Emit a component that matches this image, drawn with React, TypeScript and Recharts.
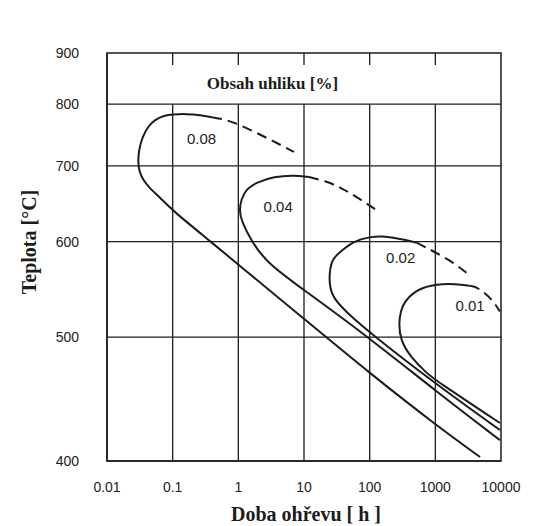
import React from 'react';
import {
  LineChart,
  Line,
  XAxis,
  YAxis,
  ReferenceLine,
  ReferenceArea,
  ReferenceDot,
  Label,
} from 'recharts';

type Pt = { t: number; T: number };

// axes
const timeTicks = [0.01, 0.1, 1, 10, 100, 1000, 10000];
const tempTicks = [900, 800, 700, 600, 500, 400];
const gridTimes = [0.1, 1, 10, 100, 1000];
const gridTemps = [800, 700, 600, 500];

// curves: t = hours, T = °C
const c008Solid: Pt[] = [
  { t: 0.4, T: 777 }, { t: 0.267, T: 781 }, { t: 0.161, T: 783 }, { t: 0.1, T: 782 },
  { t: 0.0741, T: 780 }, { t: 0.0548, T: 773.5 }, { t: 0.042, T: 762 }, { t: 0.0344, T: 743.5 },
  { t: 0.0306, T: 724 }, { t: 0.0296, T: 706 }, { t: 0.0311, T: 691.5 }, { t: 0.0355, T: 679.7 },
  { t: 0.0434, T: 669.6 }, { t: 0.0648, T: 655 }, { t: 0.1, T: 638.4 }, { t: 0.35, T: 602.3 },
  { t: 1.035, T: 572.9 }, { t: 10.4, T: 516.5 }, { t: 100, T: 468 }, { t: 1020, T: 426.3 },
  { t: 4800, T: 402.8 },
];
const c008Dash: Pt[] = [
  { t: 0.4, T: 777 }, { t: 0.622, T: 773.5 }, { t: 1.035, T: 765 }, { t: 2.48, T: 745 },
  { t: 4.98, T: 729 }, { t: 7.05, T: 721 },
];

const c004Solid: Pt[] = [
  { t: 11.9, T: 684 }, { t: 7.05, T: 686.6 }, { t: 3.51, T: 684.6 }, { t: 1.87, T: 676.3 },
  { t: 1.32, T: 667 }, { t: 1.11, T: 653.7 }, { t: 1.035, T: 638.4 }, { t: 1.11, T: 626.1 },
  { t: 1.56, T: 601.2 }, { t: 2.75, T: 575.2 }, { t: 10, T: 546.4 }, { t: 100, T: 499.1 },
  { t: 1020, T: 453 }, { t: 9620, T: 415 },
];
const c004Dash: Pt[] = [
  { t: 11.9, T: 684 }, { t: 22.3, T: 677.7 }, { t: 37.7, T: 668.2 }, { t: 63.6, T: 656.4 },
  { t: 137, T: 637.2 },
];

const c002Solid: Pt[] = [
  { t: 522, T: 598.8 }, { t: 330, T: 602.7 }, { t: 232, T: 604.6 }, { t: 164, T: 606.6 },
  { t: 100, T: 605.8 }, { t: 57.2, T: 601.2 }, { t: 31.6, T: 584.8 }, { t: 26.5, T: 578.7 },
  { t: 23.9, T: 561.6 }, { t: 25.4, T: 540.3 }, { t: 44.9, T: 523.5 }, { t: 102, T: 503.8 },
  { t: 1020, T: 458.8 }, { t: 9620, T: 422.5 },
];
const c002Dash: Pt[] = [
  { t: 522, T: 598.8 }, { t: 741, T: 592.8 }, { t: 1800, T: 577.5 }, { t: 3380, T: 561.6 },
];

const c001Solid: Pt[] = [
  { t: 3380, T: 550.7 }, { t: 2050, T: 552.9 }, { t: 1060, T: 552.9 }, { t: 522, T: 547.5 },
  { t: 330, T: 533.7 }, { t: 297, T: 524.5 }, { t: 277, T: 513.2 }, { t: 294, T: 497.2 },
  { t: 418, T: 482.1 }, { t: 741, T: 468 }, { t: 1000, T: 462.1 }, { t: 9620, T: 427.8 },
];
const c001Dash: Pt[] = [
  { t: 3380, T: 550.7 }, { t: 4440, T: 549.3 }, { t: 7340, T: 536.9 }, { t: 9620, T: 524.5 },
];

const curveLabels = [
  { text: '0.08', t: 0.276, T: 742 },
  { text: '0.04', t: 4.04, T: 643.5 },
  { text: '0.02', t: 297, T: 581 },
  { text: '0.01', t: 3380, T: 530.6 },
];

// temperature axis is drawn in 1/T (Kelvin)
const inv = (T: number) => 1000 / (T + 273);
const toRows = (pts: Pt[]) => pts.map((p) => ({ t: p.t, y: inv(p.T) }));

const ink = '#1c1c1c';
const sans = 'Liberation Sans, Arial, sans-serif';
const serif = 'Liberation Serif, Times New Roman, serif';

const series = [
  { key: 's08', data: c008Solid, dash: undefined },
  { key: 'd08', data: c008Dash, dash: '10 6' },
  { key: 's04', data: c004Solid, dash: undefined },
  { key: 'd04', data: c004Dash, dash: '10 6' },
  { key: 's02', data: c002Solid, dash: undefined },
  { key: 'd02', data: c002Dash, dash: '10 6' },
  { key: 's01', data: c001Solid, dash: undefined },
  { key: 'd01', data: c001Dash, dash: '10 6' },
];

// temperature labels sit well left of the frame, as in the scan
function TempTick(props: any) {
  const { y, payload } = props;
  const label = String(Math.round(1000 / payload.value - 273));
  return (
    <text x={79} y={y} dy="0.35em" textAnchor="end" fontSize={14} fontFamily={sans} fill="#222">
      {label}
    </text>
  );
}

export default function App() {
  return (
    <div style={{ position: 'absolute', left: 0, top: 0, background: '#fff' }}>
      <LineChart width={540} height={526} margin={{ top: 53, right: 39, bottom: 0, left: 0 }}>
        <XAxis
          dataKey="t"
          type="number"
          scale="log"
          domain={[0.01, 10000]}
          ticks={timeTicks}
          tickFormatter={(v: number) => String(v)}
          allowDataOverflow
          height={65}
          axisLine={{ stroke: ink, strokeWidth: 1.5 }}
          tickLine={false}
          tickSize={0}
          tickMargin={21}
          tick={{ fill: '#222', fontSize: 14, fontFamily: sans }}
        >
          <Label
            content={() => (
              <text x={306} y={521} textAnchor="middle" fontFamily={serif} fontWeight="bold" fontSize={20} fill={ink}>
                Doba ohřevu [ h ]
              </text>
            )}
          />
        </XAxis>
        <YAxis
          type="number"
          domain={[inv(900), inv(400)]}
          reversed
          ticks={tempTicks.map(inv)}
          allowDataOverflow
          width={107}
          axisLine={{ stroke: ink, strokeWidth: 1.5 }}
          tickLine={false}
          tickSize={0}
          tick={TempTick}
        >
          <Label
            content={() => (
              <text
                x={36}
                y={242}
                transform="rotate(-90 36 242)"
                textAnchor="middle"
                fontFamily={serif}
                fontWeight="bold"
                fontSize={20}
                fill={ink}
              >
                Teplota [°C]
              </text>
            )}
          />
        </YAxis>

        <ReferenceArea
          x1={0.01}
          x2={10000}
          y1={inv(900)}
          y2={inv(400)}
          fill="none"
          stroke={ink}
          strokeWidth={1.5}
        />
        {gridTemps.map((T) => (
          <ReferenceLine key={'h' + T} y={inv(T)} stroke={ink} strokeWidth={1.3} />
        ))}
        {gridTimes.map((t) => (
          <ReferenceLine
            key={'v' + t}
            segment={[{ x: t, y: inv(800) }, { x: t, y: inv(400) }]}
            stroke={ink}
            strokeWidth={1.3}
          />
        ))}
        {gridTimes.map((t) => (
          <ReferenceLine
            key={'k' + t}
            segment={[{ x: t, y: inv(900) }, { x: t, y: inv(875) }]}
            stroke={ink}
            strokeWidth={1.3}
          />
        ))}

        <ReferenceDot x={3.3} y={inv(840)} r={0} fill="none" stroke="none">
          <Label value="Obsah uhliku [%]" position="center" fontFamily={serif} fontWeight="bold" fontSize={17} fill={ink} />
        </ReferenceDot>
        {curveLabels.map((l) => (
          <ReferenceDot key={l.text} x={l.t} y={inv(l.T)} r={0} fill="none" stroke="none">
            <Label value={l.text} position="center" fontFamily={sans} fontSize={15} fill="#222" />
          </ReferenceDot>
        ))}

        {series.map((s) => (
          <Line
            key={s.key}
            data={toRows(s.data)}
            dataKey="y"
            type="basis"
            stroke={ink}
            strokeWidth={2}
            strokeDasharray={s.dash}
            dot={false}
            activeDot={false}
            isAnimationActive={false}
          />
        ))}
      </LineChart>
    </div>
  );
}
